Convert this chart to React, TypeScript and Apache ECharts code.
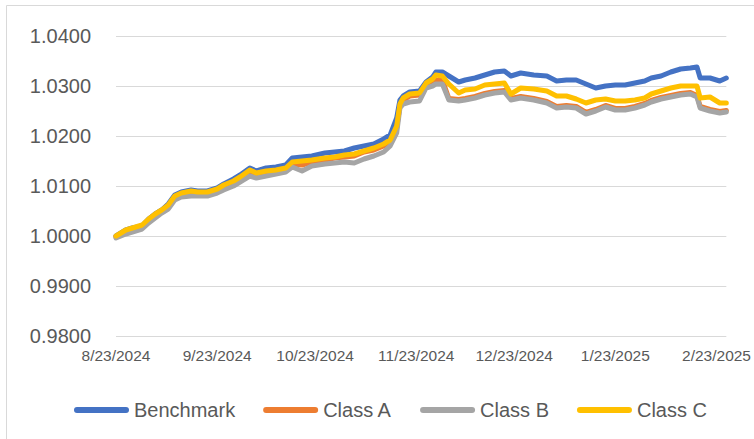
import React, { useEffect, useRef } from "react";
import * as echarts from "echarts";

const startDate = "2024-08-23";

const dates = [
  "2024-08-23", "2024-08-26", "2024-08-28", "2024-08-31", "2024-09-02", "2024-09-04", "2024-09-06", "2024-09-08", "2024-09-10", "2024-09-12",
  "2024-09-15", "2024-09-17", "2024-09-20", "2024-09-23", "2024-09-25", "2024-09-28", "2024-09-30", "2024-10-03", "2024-10-05", "2024-10-08",
  "2024-10-11", "2024-10-14", "2024-10-16", "2024-10-19", "2024-10-22", "2024-10-26", "2024-10-29", "2024-11-01", "2024-11-04", "2024-11-07",
  "2024-11-10", "2024-11-13", "2024-11-15", "2024-11-17", "2024-11-18", "2024-11-19", "2024-11-21", "2024-11-24", "2024-11-26", "2024-11-28",
  "2024-11-29", "2024-12-01", "2024-12-03", "2024-12-06", "2024-12-08", "2024-12-11", "2024-12-14", "2024-12-17", "2024-12-20", "2024-12-22",
  "2024-12-25", "2024-12-29", "2025-01-02", "2025-01-05", "2025-01-08", "2025-01-11", "2025-01-14", "2025-01-17", "2025-01-20", "2025-01-23",
  "2025-01-26", "2025-01-29", "2025-02-01", "2025-02-03", "2025-02-06", "2025-02-09", "2025-02-12", "2025-02-15", "2025-02-17", "2025-02-18",
  "2025-02-21", "2025-02-24", "2025-02-26",
];

const benchmark = [
  1.0000, 1.0012, 1.0016, 1.0020, 1.0034, 1.0044, 1.0052, 1.0064, 1.0082, 1.0088,
  1.0092, 1.0090, 1.0090, 1.0096, 1.0104, 1.0114, 1.0122, 1.0136, 1.0130, 1.0136,
  1.0138, 1.0142, 1.0156, 1.0158, 1.0160, 1.0166, 1.0168, 1.0170, 1.0176, 1.0180,
  1.0184, 1.0194, 1.0202, 1.0236, 1.0272, 1.0280, 1.0288, 1.0290, 1.0308, 1.0318,
  1.0328, 1.0328, 1.0320, 1.0308, 1.0312, 1.0316, 1.0322, 1.0328, 1.0330, 1.0320,
  1.0326, 1.0322, 1.0320, 1.0310, 1.0312, 1.0312, 1.0304, 1.0296, 1.0300, 1.0302,
  1.0302, 1.0306, 1.0310, 1.0316, 1.0320, 1.0328, 1.0334, 1.0336, 1.0338, 1.0316,
  1.0316, 1.0310, 1.0316,
];

const classA = [
  0.9998, 1.0008, 1.0014, 1.0020, 1.0032, 1.0042, 1.0050, 1.0060, 1.0076, 1.0082,
  1.0086, 1.0084, 1.0084, 1.0090, 1.0098, 1.0106, 1.0114, 1.0126, 1.0122, 1.0126,
  1.0128, 1.0132, 1.0144, 1.0142, 1.0148, 1.0152, 1.0156, 1.0158, 1.0160, 1.0168,
  1.0172, 1.0180, 1.0188, 1.0216, 1.0260, 1.0272, 1.0280, 1.0282, 1.0300, 1.0308,
  1.0312, 1.0312, 1.0275, 1.0273, 1.0275, 1.0279, 1.0285, 1.0289, 1.0291, 1.0275,
  1.0279, 1.0275, 1.0269, 1.0259, 1.0261, 1.0259, 1.0247, 1.0253, 1.0261, 1.0255,
  1.0255, 1.0259, 1.0265, 1.0271, 1.0277, 1.0281, 1.0285, 1.0287, 1.0281, 1.0259,
  1.0253, 1.0249, 1.0251,
];

const classB = [
  0.9996, 1.0004, 1.0008, 1.0014, 1.0026, 1.0036, 1.0046, 1.0054, 1.0072, 1.0078,
  1.0080, 1.0080, 1.0080, 1.0086, 1.0092, 1.0100, 1.0108, 1.0120, 1.0116, 1.0120,
  1.0124, 1.0128, 1.0138, 1.0130, 1.0140, 1.0144, 1.0146, 1.0148, 1.0146, 1.0154,
  1.0160, 1.0168, 1.0180, 1.0206, 1.0256, 1.0264, 1.0268, 1.0270, 1.0296, 1.0300,
  1.0304, 1.0304, 1.0272, 1.0270, 1.0272, 1.0276, 1.0282, 1.0286, 1.0288, 1.0272,
  1.0276, 1.0272, 1.0266, 1.0256, 1.0258, 1.0256, 1.0244, 1.0250, 1.0258, 1.0252,
  1.0252, 1.0256, 1.0262, 1.0268, 1.0274, 1.0278, 1.0282, 1.0284, 1.0278, 1.0256,
  1.0250, 1.0246, 1.0248,
];

const classC = [
  1.0000, 1.0012, 1.0016, 1.0022, 1.0034, 1.0044, 1.0052, 1.0062, 1.0080, 1.0086,
  1.0090, 1.0088, 1.0088, 1.0094, 1.0102, 1.0110, 1.0118, 1.0132, 1.0126, 1.0130,
  1.0132, 1.0136, 1.0148, 1.0150, 1.0152, 1.0156, 1.0158, 1.0162, 1.0164, 1.0170,
  1.0176, 1.0184, 1.0192, 1.0220, 1.0264, 1.0276, 1.0284, 1.0286, 1.0306, 1.0314,
  1.0322, 1.0320, 1.0304, 1.0286, 1.0292, 1.0294, 1.0302, 1.0304, 1.0306, 1.0284,
  1.0296, 1.0294, 1.0290, 1.0280, 1.0280, 1.0274, 1.0266, 1.0272, 1.0274, 1.0270,
  1.0270, 1.0272, 1.0276, 1.0284, 1.0290, 1.0296, 1.0300, 1.0300, 1.0300, 1.0276,
  1.0278, 1.0266, 1.0266,
];

const tickDates = ["2024-08-23", "2024-09-23", "2024-10-23", "2024-11-23", "2024-12-23", "2025-01-23", "2025-02-23"];

const seriesNames = ["Benchmark", "Class A", "Class B", "Class C"];
const seriesColors = ["#4472C4", "#ED7D31", "#A5A5A5", "#FFC000"];

const DAY = 86400000;
const t0 = Date.parse(startDate);
const toOffset = (s: string) => Math.round((Date.parse(s) - t0) / DAY);
const fmtOffset = (v: number) => {
  const d = new Date(t0 + Math.round(v) * DAY);
  return `${d.getUTCMonth() + 1}/${d.getUTCDate()}/${d.getUTCFullYear()}`;
};

const FONT = "'Liberation Sans', Arial, sans-serif";

export default function App() {
  const ref = useRef<HTMLDivElement>(null);
  useEffect(() => {
    if (!ref.current) return;
    const chart = echarts.init(ref.current, null, { renderer: "svg" });
    const xs = dates.map(toOffset);
    const all = [benchmark, classA, classB, classC];
    chart.setOption({
      animation: false,
      textStyle: { fontFamily: FONT },
      graphic: [
        {
          type: "rect",
          shape: { x: 6.5, y: 5.5, width: 800, height: 500 },
          style: { fill: "none", stroke: "#D9D9D9", lineWidth: 1 },
          silent: true,
          z: -10,
        },
      ],
      grid: { left: 116, right: 24, top: 36, bottom: 103, containLabel: false },
      xAxis: {
        type: "value",
        min: 0,
        max: xs[xs.length - 1],
        axisLine: { show: false },
        axisTick: { show: false },
        splitLine: { show: false },
        axisLabel: {
          customValues: tickDates.map(toOffset),
          formatter: (v: number) => fmtOffset(v),
          fontSize: 15.5,
          color: "#595959",
          fontFamily: FONT,
          margin: 11,
          showMinLabel: true,
          showMaxLabel: true,
          hideOverlap: false,
        },
      },
      yAxis: {
        type: "value",
        min: 0.98,
        max: 1.04,
        interval: 0.01,
        axisLine: { show: false },
        axisTick: { show: false },
        splitLine: { lineStyle: { color: "#D9D9D9", width: 1 } },
        axisLabel: {
          formatter: (v: number) => v.toFixed(4),
          fontSize: 20,
          color: "#595959",
          fontFamily: FONT,
          margin: 25,
        },
      },
      legend: {
        left: 69,
        top: 395,
        itemWidth: 55,
        itemHeight: 6,
        itemGap: 28,
        icon: "path://M3,0 H52 A3,3 0 0 1 52,6 H3 A3,3 0 0 1 3,0 Z",
        textStyle: { fontSize: 20, color: "#595959", fontFamily: FONT },
        data: seriesNames,
      },
      series: seriesNames.map((name, i) => ({
        name,
        type: "line",
        showSymbol: false,
        symbol: "none",
        data: xs.map((x, j) => [x, all[i][j]]),
        itemStyle: { color: seriesColors[i] },
        lineStyle: { color: seriesColors[i], width: 5, cap: "round", join: "round" },
      })),
    });
    return () => chart.dispose();
  }, []);
  return <div ref={ref} style={{ position: "absolute", left: 0, top: 0, width: 754, height: 439 }} />;
}
